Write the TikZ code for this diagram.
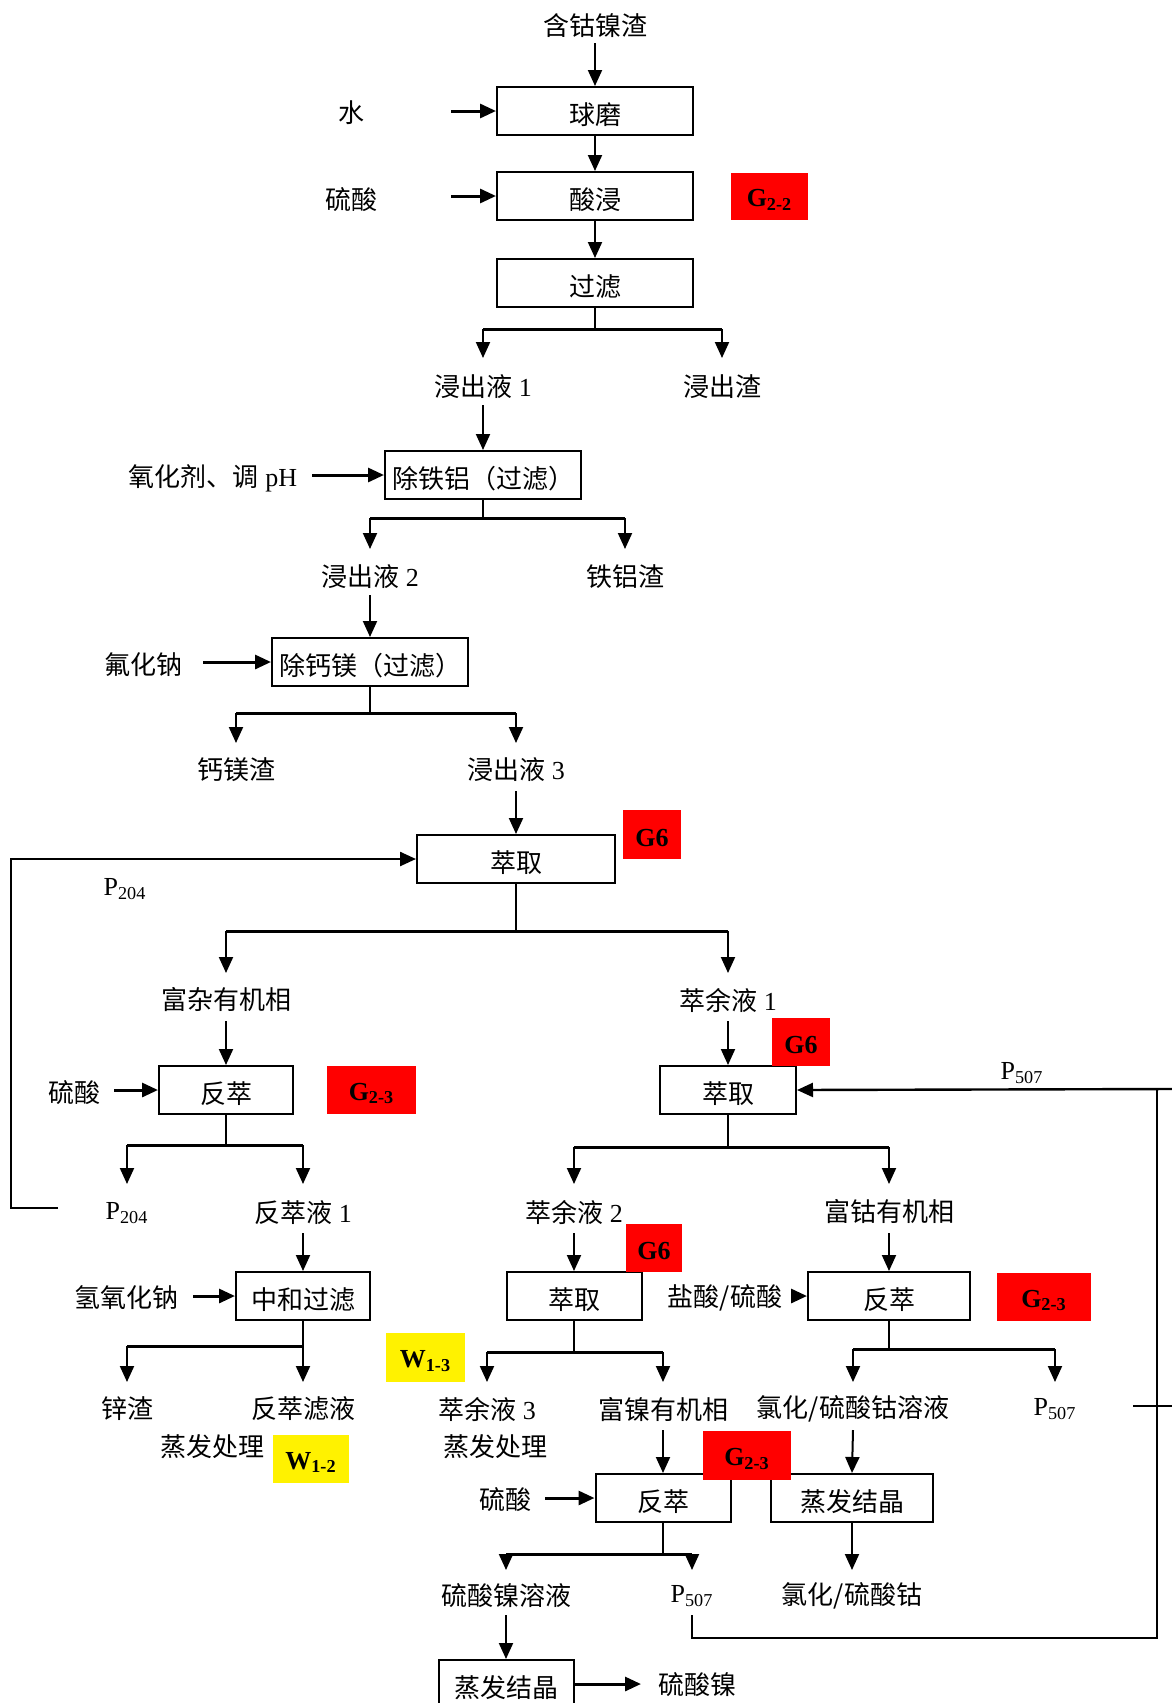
\documentclass[tikz,border=0pt]{standalone}
\usepackage{fontspec}
\setmainfont{Liberation Serif}
\newfontfamily\cjk{Noto Sans CJK SC}
\usetikzlibrary{arrows.meta}
\newcommand\zhs[1]{{\cjk #1}}
\newcommand\lowr[1]{\raisebox{-1.7pt}[\height][\depth]{#1}}
% split: box, bar y, left label, right label, tip y
\newcommand\mysplit[5]{%
  \draw[stem] (#1.south) -- (#1.south |- 0,#2);
  \draw[bar] (#3 |- 0,#2) -- (#4 |- 0,#2);
  \draw[arr] (#3 |- 0,#2) -- (#3 |- 0,#5);
  \draw[arr] (#4 |- 0,#2) -- (#4 |- 0,#5);
}
\begin{document}
\begin{tikzpicture}[x=0.5pt,y=-0.5pt,
  every node/.style={font=\fontsize{13}{15}\selectfont, inner sep=0pt},
  box/.style={draw, line width=1pt, minimum width=#1, minimum height=24pt, fill=white},
  tag/.style 2 args={fill=red, minimum width=#1, minimum height=#2, font=\fontsize{13}{15}\selectfont\bfseries},
  ytag/.style 2 args={fill=yellow, minimum width=#1, minimum height=#2, font=\fontsize{13}{15}\selectfont\bfseries},
  arr/.style={-{Triangle[length=8pt,width=7pt]}, line width=1pt},
  feed/.style={-{Triangle[length=8pt,width=7pt]}, line width=1.5pt},
  bar/.style={line width=1.5pt, line cap=square},
  stem/.style={line width=0.6pt},
  loopline/.style={line width=1.2pt}
]
\clip (0,0) rectangle (1172,1703);
\fill[white] (0,0) rectangle (1172,1703);

% ---- nodes ----
\node (src) at (595,26) {\zhs{含钴镍渣}};
\node[box=98pt] (b1) at (595,111) {\lowr{\zhs{球磨}}};
\node (water) at (351,113) {\zhs{水}};
\node[box=98pt] (b2) at (595,196) {\lowr{\zhs{酸浸}}};
\node (acid1) at (351,200) {\zhs{硫酸}};
\node[box=98pt] (b3) at (595,283) {\lowr{\zhs{过滤}}};
\node (l1) at (483,387) {\zhs{浸出液} 1};
\node (r1) at (722,387) {\zhs{浸出渣}};
\node[box=98pt] (b4) at (483,475) {\lowr{\zhs{除铁铝（过滤）}}};
\node (ox) at (213,478) {\zhs{氧化剂、调} pH};
\node (l2) at (370,577) {\zhs{浸出液} 2};
\node (r2) at (625,577) {\zhs{铁铝渣}};
\node[box=98pt] (b5) at (370,662) {\lowr{\zhs{除钙镁（过滤）}}};
\node (naf) at (143,665) {\zhs{氟化钠}};
\node (r3) at (236,770) {\zhs{钙镁渣}};
\node (l3) at (516,770) {\zhs{浸出液} 3};
\node[box=99pt] (b6) at (516,859) {\lowr{\zhs{萃取}}};
\node (p204a) at (125,889) {P\textsubscript{204}};
\node (fz) at (226,1000) {\zhs{富杂有机相}};
\node (cy1) at (728,1000) {\zhs{萃余液} 1};
\node[box=67pt] (b7) at (226,1090) {\lowr{\zhs{反萃}}};
\node (acid2) at (74,1093) {\zhs{硫酸}};
\node[box=68pt] (b8) at (728,1090) {\lowr{\zhs{萃取}}};
\node (p507a) at (1022,1073) {P\textsubscript{507}};
\node (p204b) at (127,1213) {P\textsubscript{204}};
\node (fy1) at (303,1213) {\zhs{反萃液} 1};
\node (cy2) at (574,1212) {\zhs{萃余液} 2};
\node (fg) at (889,1212) {\zhs{富钴有机相}};
\node[box=67pt] (b9) at (303,1296) {\lowr{\zhs{中和过滤}}};
\node (naoh) at (126,1298) {\zhs{氢氧化钠}};
\node[box=67.5pt] (b10) at (574,1296) {\lowr{\zhs{萃取}}};
\node (hcl) at (725,1298) {\zhs{盐酸/硫酸}};
\node[box=81pt] (b11) at (889,1296) {\lowr{\zhs{反萃}}};
\node (zn) at (127,1409) {\zhs{锌渣}};
\node (fyl) at (303,1409) {\zhs{反萃滤液}};
\node (cy3) at (487,1409) {\zhs{萃余液} 3};
\node (fn) at (663,1409) {\zhs{富镍有机相}};
\node (cocl) at (853,1409) {\zhs{氯化/硫酸钴溶液}};
\node (p507b) at (1055,1409) {P\textsubscript{507}};
\node (ev1) at (212,1447) {\zhs{蒸发处理}};
\node (ev2) at (495,1447) {\zhs{蒸发处理}};
\node[box=67.5pt] (b12) at (663,1498) {\lowr{\zhs{反萃}}};
\node (acid3) at (505,1500) {\zhs{硫酸}};
\node[box=81pt] (b13) at (852,1498) {\lowr{\zhs{蒸发结晶}}};
\node (nis) at (506,1596) {\zhs{硫酸镍溶液}};
\node (p507c) at (692,1596) {P\textsubscript{507}};
\node (cos) at (852,1596) {\zhs{氯化/硫酸钴}};
\node[box=67.5pt] (b14) at (506,1684) {\lowr{\zhs{蒸发结晶}}};
\node (niso) at (697,1685) {\zhs{硫酸镍}};

% ---- tags ----
\node[tag={38.5pt}{23.5pt}] (g22) at (769.5,196.5) {\lowr{G\textsubscript{2-2}}};
\node[tag={29pt}{24.5pt}] (g6a) at (652,834.5) {\lowr{G6}};
\node[tag={44.5pt}{24pt}] (g23a) at (371.5,1090) {\lowr{G\textsubscript{2-3}}};
\node[tag={29pt}{24pt}] (g6b) at (801,1042) {\lowr{G6}};
\node[tag={28pt}{24pt}] (g6c) at (654,1248) {\lowr{G6}};
\node[tag={47pt}{24pt}] (g23b) at (1044,1297) {\lowr{G\textsubscript{2-3}}};
\node[ytag={39.5pt}{24.5pt}] (w13) at (425.5,1357.5) {\lowr{W\textsubscript{1-3}}};
\node[ytag={38pt}{24pt}] (w12) at (311,1459) {\lowr{W\textsubscript{1-2}}};
\node[tag={44pt}{24.5pt}] (g23c) at (747,1455.5) {\lowr{G\textsubscript{2-3}}};

% ---- straight flow ----
\draw[arr] (src |- 0,43) -- (b1.north);
\draw[arr] (b1.south) -- (b2.north);
\draw[arr] (b2.south) -- (b3.north);
\draw[feed] (451,111) -- (b1.west);
\draw[feed] (451,196) -- (b2.west);
\mysplit{b3}{329}{l1}{r1}{358}
\draw[arr] (l1 |- 0,405) -- (b4.north);
\draw[feed] (312,475) -- (b4.west);
\mysplit{b4}{518}{l2}{r2}{549}
\draw[arr] (l2 |- 0,595) -- (b5.north);
\draw[feed] (203,662) -- (b5.west);
\mysplit{b5}{713}{r3}{l3}{743}
\draw[arr] (l3 |- 0,791) -- (b6.north);
\mysplit{b6}{931}{fz}{cy1}{973}
\draw[arr] (fz |- 0,1021) -- (b7.north);
\draw[feed] (114,1090) -- (b7.west);
\mysplit{b7}{1145}{p204b}{fy1}{1184}
\draw[arr] (fy1 |- 0,1233) -- (b9.north);
\draw[feed] (193,1296) -- (b9.west);
\mysplit{b9}{1346}{zn}{fyl}{1382}
\draw[arr] (cy1 |- 0,1021) -- (b8.north);
\mysplit{b8}{1147}{cy2}{fg}{1184}
\draw[arr] (cy2 |- 0,1233) -- (b10.north);
\draw[arr] (fg |- 0,1233) -- (b11.north);
\draw[feed] (791,1296) -- (b11.west);
\mysplit{b10}{1352}{cy3}{fn}{1382}
\mysplit{b11}{1349}{cocl}{p507b}{1382}
\draw[arr] (fn |- 0,1430) -- (b12.north);
\draw[arr] (cocl |- 0,1430) -- (b13.north);
\draw[feed] (545,1498) -- (b12.west);
\mysplit{b12}{1554}{nis}{p507c}{1570}
\draw[arr] (b13.south) -- (cos |- 0,1570);
\draw[arr] (nis |- 0,1615) -- (b14.north);
\draw[feed] (b14.east) -- (b14.east -| 641,0);
% ---- recycle loops ----
\coordinate (p204in) at (58,1208);
\draw[loopline, -{Triangle[length=8pt,width=7pt]}] (p204in) -| (11,859) -- (b6.west);
\coordinate (p507edge) at (1172,1089);
\draw[loopline, -{Triangle[length=8pt,width=7pt]}] (p507edge) -- (b8.east);
\draw[loopline] (p507c |- 0,1615) |- (1157,1638) -- (1157,1089);
\coordinate (tk1) at (1133,1406);
\coordinate (tk2) at (1172,1406);
\draw[loopline] (tk1) -- (tk2);
\end{tikzpicture}
\end{document}
